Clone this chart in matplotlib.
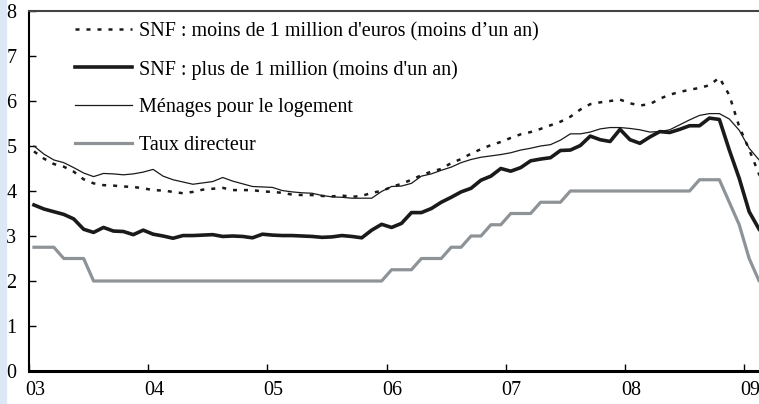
import numpy as np
import matplotlib
matplotlib.use("Agg")
import matplotlib.pyplot as plt
import matplotlib.transforms as mtransforms
from matplotlib.patches import Rectangle

plt.rcParams["font.family"] = ["Liberation Serif", "DejaVu Serif"]

# monthly data, Jan 2003 -> Mar 2009
snf_petits = [4.88, 4.72, 4.60, 4.54, 4.43, 4.26, 4.17, 4.13, 4.12, 4.10, 4.09, 4.06,
              4.02, 4.01, 3.98, 3.95, 3.98, 4.03, 4.05, 4.07, 4.02, 4.02, 4.02, 3.99,
              3.98, 3.96, 3.92, 3.91, 3.91, 3.89, 3.88, 3.90, 3.87, 3.89, 3.96, 4.00,
              4.09, 4.16, 4.25, 4.35, 4.43, 4.49, 4.62, 4.71, 4.83, 4.93, 5.02, 5.09,
              5.18, 5.26, 5.31, 5.38, 5.46, 5.54, 5.65, 5.81, 5.93, 5.97, 6.00, 6.03,
              5.95, 5.90, 5.93, 6.05, 6.14, 6.20, 6.25, 6.29, 6.35, 6.52, 6.13, 5.43,
              4.92, 4.37, 4.00]
snf_gros = [3.69, 3.60, 3.54, 3.48, 3.38, 3.15, 3.08, 3.19, 3.11, 3.10, 3.03, 3.13,
            3.04, 3.00, 2.95, 3.01, 3.01, 3.02, 3.03, 2.99, 3.00, 2.99, 2.96, 3.04,
            3.02, 3.01, 3.01, 3.00, 2.99, 2.97, 2.98, 3.01, 2.99, 2.96, 3.13, 3.26,
            3.19, 3.28, 3.52, 3.52, 3.61, 3.75, 3.86, 3.98, 4.06, 4.24, 4.33, 4.50,
            4.44, 4.52, 4.67, 4.71, 4.74, 4.90, 4.91, 5.01, 5.22, 5.14, 5.10, 5.37,
            5.14, 5.06, 5.20, 5.32, 5.30, 5.37, 5.45, 5.45, 5.62, 5.59, 4.91, 4.28,
            3.54, 3.15, 2.90]
menages = [5.00, 4.82, 4.69, 4.63, 4.52, 4.40, 4.32, 4.39, 4.38, 4.36, 4.38, 4.42,
           4.48, 4.33, 4.25, 4.20, 4.15, 4.18, 4.21, 4.30, 4.22, 4.16, 4.10, 4.09,
           4.08, 4.01, 3.98, 3.96, 3.95, 3.90, 3.87, 3.86, 3.84, 3.84, 3.84, 3.99,
           4.10, 4.11, 4.17, 4.33, 4.38, 4.46, 4.53, 4.63, 4.70, 4.75, 4.78, 4.81,
           4.85, 4.91, 4.95, 5.00, 5.03, 5.13, 5.27, 5.27, 5.31, 5.38, 5.41, 5.41,
           5.39, 5.36, 5.31, 5.32, 5.36, 5.47, 5.58, 5.68, 5.72, 5.72, 5.60, 5.35,
           4.95, 4.69, 4.50]
taux = [2.75, 2.75, 2.75, 2.50, 2.50, 2.50] + [2.00] * 30 + \
       [2.25, 2.25, 2.25, 2.50, 2.50, 2.50, 2.75, 2.75, 3.00, 3.00, 3.25, 3.25,
        3.50, 3.50, 3.50, 3.75, 3.75, 3.75] + [4.00] * 13 + \
       [4.25, 4.25, 4.25, 3.75, 3.25, 2.50, 2.00, 2.00]

labels = ["SNF : moins de 1 million d'euros (moins d\u2019un an)",
          "SNF : plus de 1 million (moins d'un an)",
          "Ménages pour le logement",
          "Taux directeur"]
xtick_labels = ["03", "04", "05", "06", "07", "08", "09"]

t = 2003 + (np.arange(len(menages)) + 0.5) / 12

W, H = 759, 404
fig = plt.figure(figsize=(W / 100, H / 100), dpi=100)
fig.patches.append(Rectangle((0, 0), 6 / W, 1, transform=fig.transFigure,
                             color="#dce8f6", zorder=0))
ax = fig.add_axes([29 / W, 33 / H, (W - 29) / W, 360 / H])

ax.plot(t, snf_petits, color="#1a1a1a", lw=1.8, ls=(0, (1.6, 2.8)), label=labels[0])
ax.plot(t, snf_gros, color="#1a1a1a", lw=2.6, label=labels[1])
ax.plot(t, menages, color="#1a1a1a", lw=0.9, label=labels[2])
ax.plot(t, taux, color="#8e9398", lw=2.3, label=labels[3])

ax.set_xlim(2003, 2003 + (W - 29) / 119.2)
ax.set_ylim(0, 8)
ax.set_yticks(range(0, 9))
ax.set_xticks(range(2003, 2010))
ax.set_xticklabels(xtick_labels)

ax.spines["right"].set_visible(False)
ax.spines["top"].set_color("#444444")
ax.spines["top"].set_linewidth(1.5)
ax.spines["left"].set_linewidth(1.5)
ax.spines["bottom"].set_linewidth(2.2)
ax.tick_params(axis="both", direction="in", length=5, width=1, labelsize=14.5)
ax.tick_params(axis="y", pad=9)
ax.tick_params(axis="x", pad=7)
offset = mtransforms.ScaledTranslation(6 / 100, 0, fig.dpi_scale_trans)
for lab in ax.get_xticklabels():
    lab.set_transform(lab.get_transform() + offset)

ax.legend(loc="upper left", bbox_to_anchor=(46 / (W - 29), 1 - 11 / 360),
          frameon=False, fontsize=14.5, handlelength=2.85, handletextpad=0.35,
          labelspacing=0.92, borderaxespad=0, borderpad=0)

fig.savefig("out.png", dpi=100)
